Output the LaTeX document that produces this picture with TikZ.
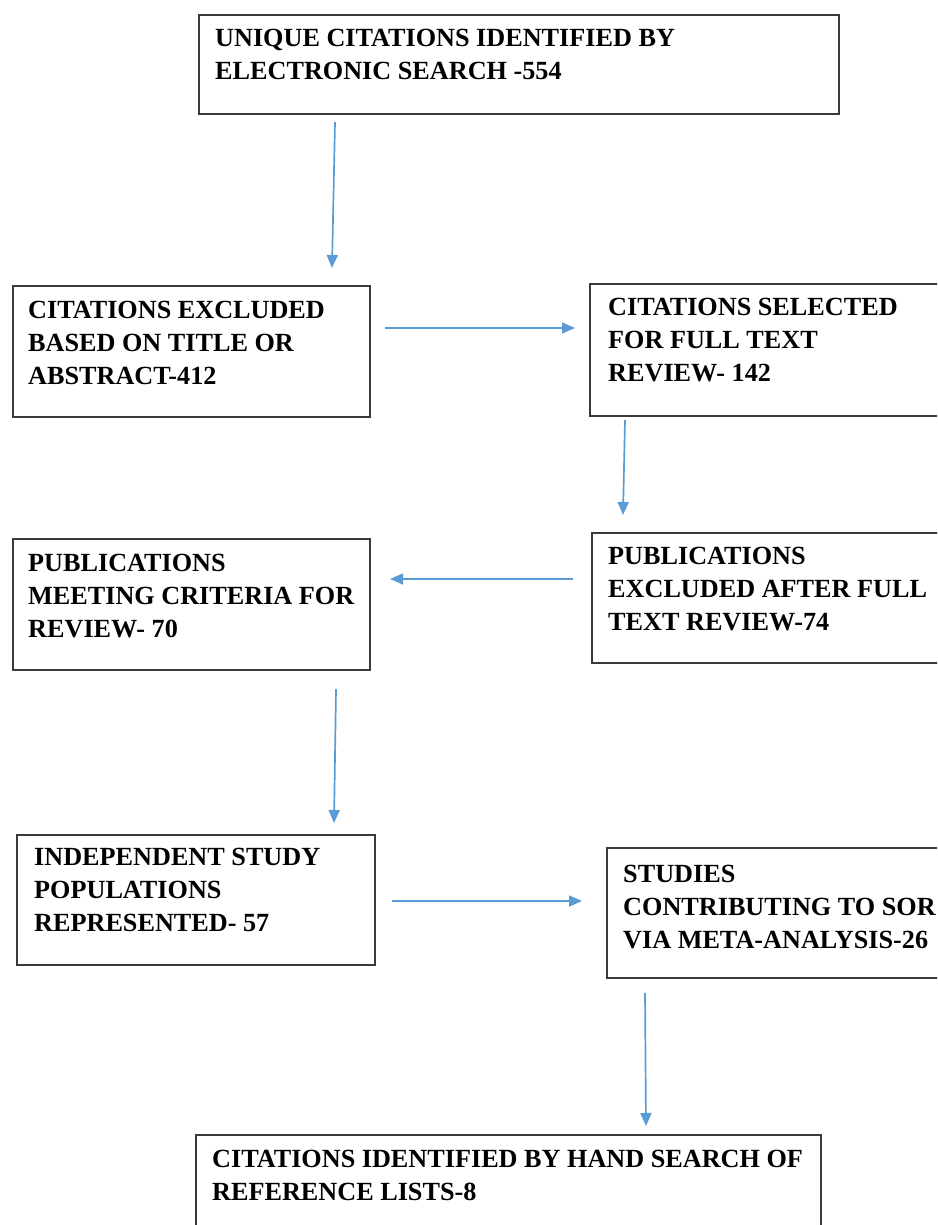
\documentclass[tikz,border=0pt]{standalone}
\usepackage{fontspec}
\setmainfont{Liberation Serif}
\usetikzlibrary{arrows.meta}
\definecolor{arrowblue}{HTML}{5B9BD5}
\definecolor{boxgray}{HTML}{3A3A3A}
\tikzset{
  flowbox/.style={draw=boxgray, line width=2pt, inner sep=0pt, anchor=north west},
  boxtext/.style={anchor=north west, inner sep=0pt, align=left,
    font=\bfseries\fontsize{26.2}{33}\selectfont},
  flowarrow/.style={draw=arrowblue, line width=1.7pt, -{Triangle[length=13pt,width=11pt]}}
}
\begin{document}
\begin{tikzpicture}[x=1pt,y=-1pt]
\useasboundingbox (0,0) rectangle (937,1225);
\clip (0,0) rectangle (937,1225);
% boxes
\node[flowbox, minimum width=640pt, minimum height=99pt] (b1) at (198,14) {};
\node[flowbox, minimum width=357pt, minimum height=131pt] (b2) at (12,285) {};
\node[flowbox, minimum width=400pt, minimum height=132pt] (b3) at (589,283) {};
\node[flowbox, minimum width=400pt, minimum height=130pt] (b4) at (591,532) {};
\node[flowbox, minimum width=357pt, minimum height=131pt] (b5) at (12,538) {};
\node[flowbox, minimum width=358pt, minimum height=130pt] (b6) at (16,834) {};
\node[flowbox, minimum width=400pt, minimum height=130pt] (b7) at (606,847) {};
\node[flowbox, minimum width=625pt, minimum height=150pt] (b8) at (195,1134) {};
% texts
\node[boxtext] (t1) at (215,29) {UNIQUE CITATIONS IDENTIFIED BY\\ELECTRONIC SEARCH -554};
\node[boxtext] (t2) at (28,301) {CITATIONS EXCLUDED\\BASED ON TITLE OR\\ABSTRACT-412};
\node[boxtext] (t3) at (608,298) {CITATIONS SELECTED\\FOR FULL TEXT\\REVIEW- 142};
\node[boxtext] (t4) at (608,547) {PUBLICATIONS\\EXCLUDED AFTER FULL\\TEXT REVIEW-74};
\node[boxtext] (t5) at (28,554) {PUBLICATIONS\\MEETING CRITERIA FOR\\REVIEW- 70};
\node[boxtext] (t6) at (34,848) {INDEPENDENT STUDY\\POPULATIONS\\REPRESENTED- 57};
\node[boxtext] (t7) at (623,865) {STUDIES\\CONTRIBUTING TO SOR\\VIA META-ANALYSIS-26};
\node[boxtext] (t8) at (212,1150) {CITATIONS IDENTIFIED BY HAND SEARCH OF\\REFERENCE LISTS-8};
% arrow end points
\coordinate (a1s) at (335,122); \coordinate (a1e) at (332,268);
\coordinate (a2s) at (385,328); \coordinate (a2e) at (575,328);
\coordinate (a3s) at (625,420); \coordinate (a3e) at (623,515);
\coordinate (a4s) at (573,579); \coordinate (a4e) at (390,579);
\coordinate (a5s) at (336,689); \coordinate (a5e) at (334,823);
\coordinate (a6s) at (392,901); \coordinate (a6e) at (582,901);
\coordinate (a7s) at (645,993); \coordinate (a7e) at (646,1126);
\draw[flowarrow] (a1s) -- (a1e);
\draw[flowarrow] (a2s) -- (a2e);
\draw[flowarrow] (a3s) -- (a3e);
\draw[flowarrow] (a4s) -- (a4e);
\draw[flowarrow] (a5s) -- (a5e);
\draw[flowarrow] (a6s) -- (a6e);
\draw[flowarrow] (a7s) -- (a7e);
\end{tikzpicture}
\end{document}
